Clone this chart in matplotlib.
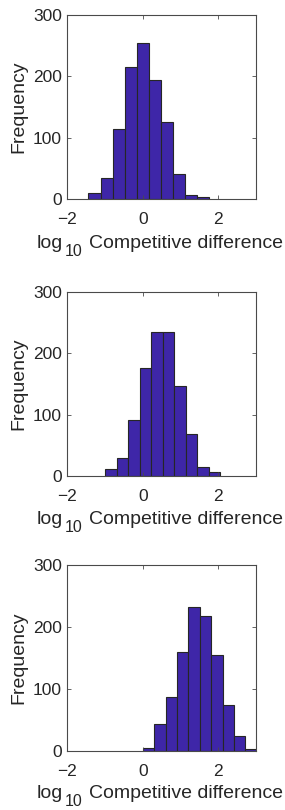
import numpy as np
import matplotlib
matplotlib.use("Agg")
import matplotlib.pyplot as plt

plt.rcParams['font.family'] = ['Liberation Sans', 'DejaVu Sans']

# Bin edges and counts for each panel
edges1 = np.round(-1.44 + 0.32 * np.arange(11), 3)
counts1 = [11, 35, 114, 215, 255, 194, 126, 41, 7, 3]

edges2 = np.round(-1.0 + 0.305 * np.arange(11), 3)
counts2 = [11, 29, 91, 175, 235, 235, 147, 68, 15, 6]

edges3 = np.round(0.0 + 0.302 * np.arange(11), 3)
counts3 = [4, 43, 86, 160, 232, 218, 154, 74, 24, 3]

xticks = [-2, 0, 2]
yticks = [0, 100, 200, 300]
xlabel_main = 'log'
xlabel_sub = '10'
xlabel_rest = 'Competitive difference'
ylabel = 'Frequency'

W, H = 285, 810
fig = plt.figure(figsize=(W / 100, H / 100), dpi=100)

panels = [
    (edges1, counts1, 15.0, 199.3, 48.5),
    (edges2, counts2, 291.7, 476.0, 48.5),
    (edges3, counts3, 565.0, 750.7, 47.3),
]

fill = '#3E26A8'
edge = '#262626'
spine = '#4a4a4a'
txtc = '#262626'
left_px, right_px = 67.3, 256.0

label_sets = []
for edges, counts, top, bot, lab_off in panels:
    ax = fig.add_axes([left_px / W, (H - bot) / H, (right_px - left_px) / W, (bot - top) / H])
    e = np.asarray(edges)
    ax.bar(e[:-1], counts, width=np.diff(e), align='edge', color=fill,
           edgecolor=edge, linewidth=0.8)
    ax.set_xlim(-2, 3)
    ax.set_ylim(0, 300)
    ax.set_xticks(xticks)
    ax.set_yticks(yticks)
    ax.tick_params(direction='in', length=3, width=0.6, color=spine,
                   top=True, right=True, labelsize=12.5, labelcolor=txtc)
    ax.tick_params(axis='x', pad=9.5)
    ax.tick_params(axis='y', pad=4)
    for s in ax.spines.values():
        s.set_color(spine)
        s.set_linewidth(0.8)
    ax.set_ylabel(ylabel, fontsize=14, color=txtc, labelpad=4)

    base_y = bot + lab_off
    t1 = fig.text(0, 1 - base_y / H, xlabel_main, fontsize=14, color=txtc, va='baseline')
    t2 = fig.text(0, 1 - (base_y + 8.0) / H, xlabel_sub, fontsize=11.5, color=txtc, va='baseline')
    t3 = fig.text(0, 1 - base_y / H, xlabel_rest, fontsize=14, color=txtc, va='baseline')
    label_sets.append((t1, t2, t3, (left_px + right_px) / 2 - 2.0))

fig.canvas.draw()
r = fig.canvas.get_renderer()
for t1, t2, t3, cx in label_sets:
    w1 = t1.get_window_extent(r).width
    w2 = t2.get_window_extent(r).width
    w3 = t3.get_window_extent(r).width
    g1, g2 = 2.0, 6.5
    x0 = cx - (w1 + g1 + w2 + g2 + w3) / 2
    t1.set_x(x0 / W)
    t2.set_x((x0 + w1 + g1) / W)
    t3.set_x((x0 + w1 + g1 + w2 + g2) / W)

fig.savefig('out.png', dpi=100)
